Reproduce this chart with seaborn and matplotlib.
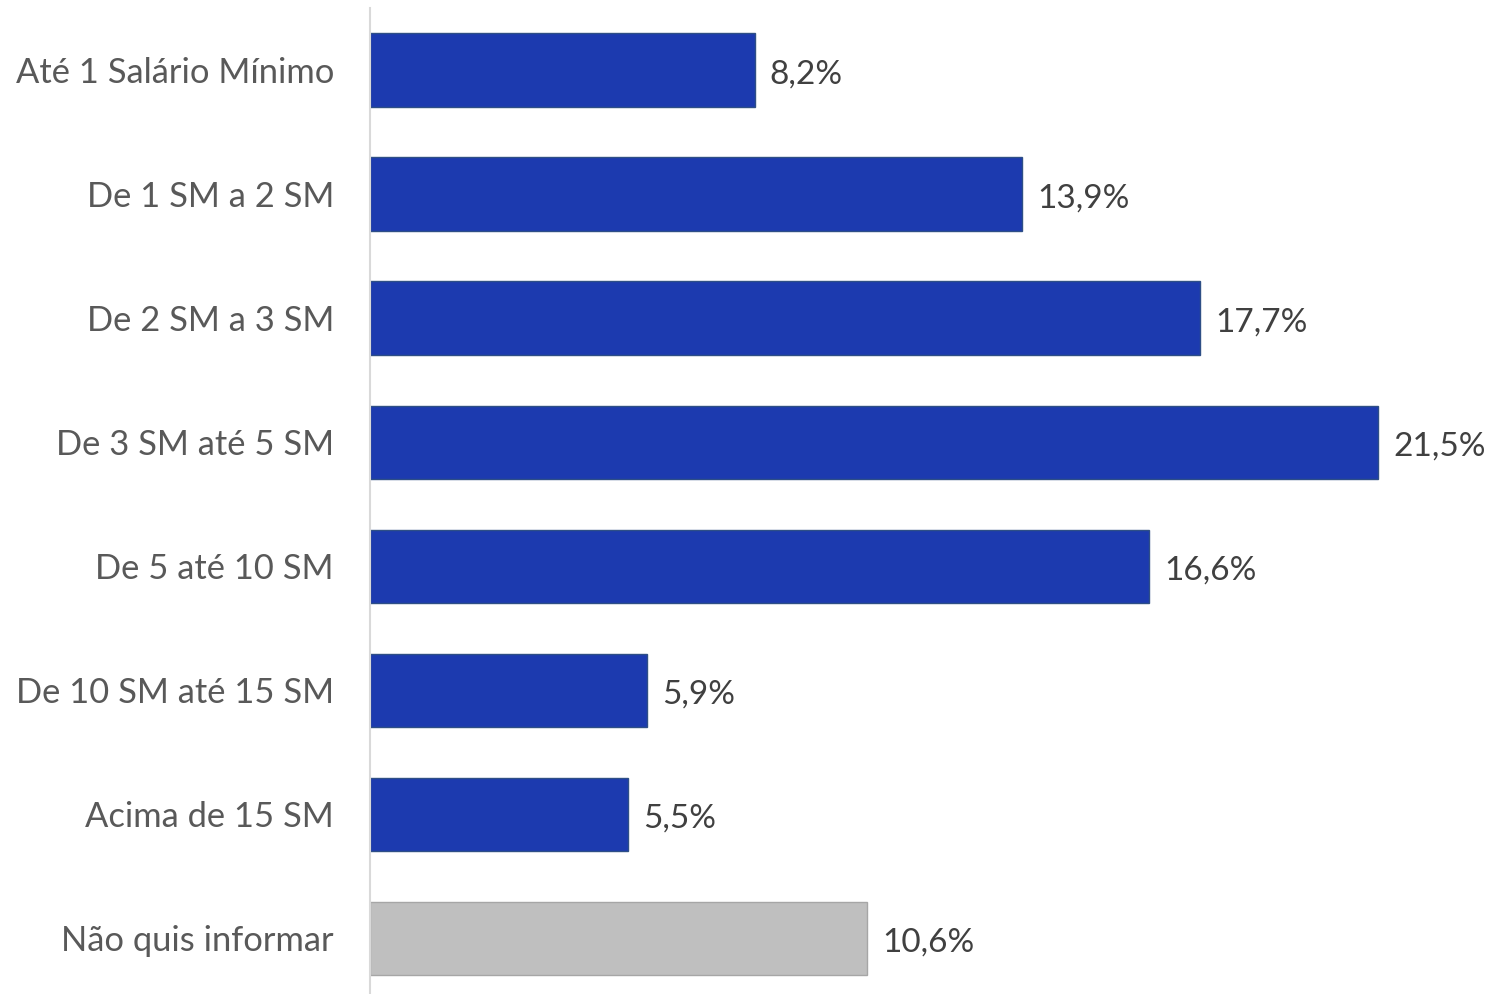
import matplotlib
matplotlib.use("Agg")
import matplotlib.pyplot as plt
import seaborn as sns
import pandas as pd

categories = ["Até 1 Salário Mínimo", "De 1 SM a 2 SM", "De 2 SM a 3 SM", "De 3 SM até 5 SM",
              "De 5 até 10 SM", "De 10 SM até 15 SM", "Acima de 15 SM", "Não quis informar"]
values = [8.2, 13.9, 17.7, 21.5, 16.6, 5.9, 5.5, 10.6]
labels = ["8,2%", "13,9%", "17,7%", "21,5%", "16,6%", "5,9%", "5,5%", "10,6%"]
bar_colors = ["#1c3aaf"] * 7 + ["#bfbfbf"]
edge_colors = ["#2e4f86"] * 7 + ["#a6a6a6"]

sns.set_theme(style="white")
plt.rcParams['font.family'] = ['Lato', 'DejaVu Sans']

df = pd.DataFrame({"cat": categories, "val": values})

fig = plt.figure(figsize=(14.94, 9.94), dpi=100)
ax = fig.add_axes([370 / 1494, 0, (1494 - 370) / 1494, 986 / 994])

sns.barplot(data=df, y="cat", x="val", hue="cat", palette=bar_colors, legend=False,
            orient="h", width=0.59, ax=ax, saturation=1)

for patch, ec in zip(ax.patches, edge_colors):
    patch.set_edgecolor(ec)
    patch.set_linewidth(1.0)

for i, (v, lab) in enumerate(zip(values, labels)):
    ax.annotate(lab, xy=(v, i), xytext=(11, -3), textcoords="offset points",
                ha="left", va="center", fontsize=24, color="#404040")

ax.set_xlim(0, (1494 - 370) / 46.9)
ax.set_ylim(7.45, -0.5)
ax.set_xlabel("")
ax.set_ylabel("")
ax.set_xticks([])
for s in ["top", "right", "bottom"]:
    ax.spines[s].set_visible(False)
ax.spines["left"].set_color("#d9d9d9")
ax.spines["left"].set_linewidth(1.5)
ax.tick_params(axis="y", length=0, pad=26, labelsize=24.8, labelcolor="#595959")

fig.savefig("out.png", dpi=100)
